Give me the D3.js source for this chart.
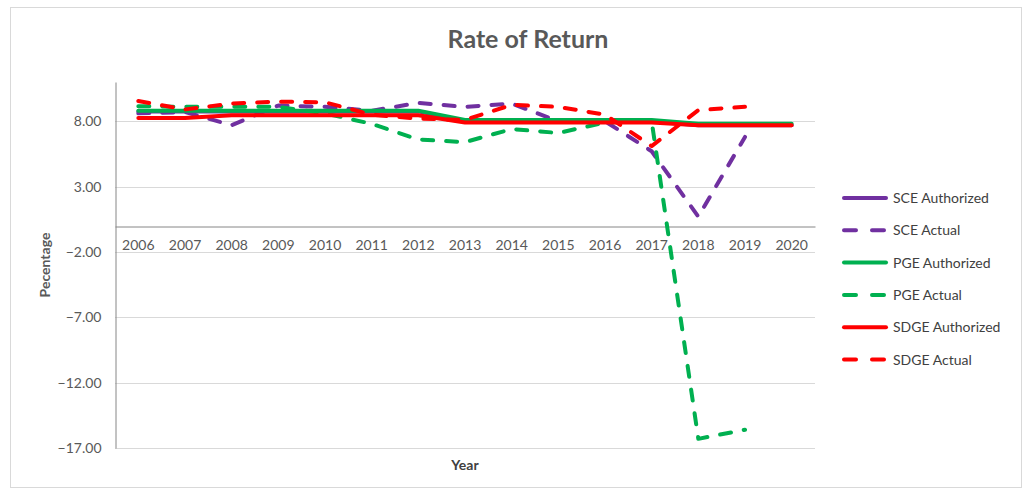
<!DOCTYPE html>
<html>
<head>
<meta charset="utf-8">
<script src="https://cdn.jsdelivr.net/npm/d3@7"></script>
<style>
  body { margin: 0; background: #fff; }
  text { font-family: Lato, "Open Sans", sans-serif; fill: #595959; }
</style>
</head>
<body>
<svg id="chart" width="1026" height="492"></svg>
<script>
// years on the category axis
var years = [2006, 2007, 2008, 2009, 2010, 2011, 2012, 2013, 2014, 2015, 2016, 2017, 2018, 2019, 2020];
var yTicks = [-17, -12, -7, -2, 3, 8];

// rate of return, percent (null = no value)
var sceAuthorized  = [8.75, 8.75, 8.75, 8.75, 8.75, 8.75, 8.75, 8.0, 8.0, 8.0, 8.0, 8.0, 7.7, 7.7, 7.7];
var sceActual      = [8.6, 8.7, 7.7, 9.2, 9.1, 8.8, 9.4, 9.1, 9.35, 8.0, 8.0, 5.7, 0.7, 6.8, null];
var pgeAuthorized  = [8.8, 8.8, 8.8, 8.8, 8.8, 8.8, 8.8, 8.1, 8.1, 8.1, 8.1, 8.1, 7.8, 7.8, 7.8];
var pgeActual      = [9.15, 9.1, 9.1, 9.1, 8.6, 7.8, 6.6, 6.4, 7.4, 7.1, 7.9, 8.0, -16.3, -15.6, null];
var sdgeAuthorized = [8.25, 8.25, 8.45, 8.45, 8.45, 8.45, 8.45, 7.9, 7.9, 7.9, 7.9, 7.9, 7.7, 7.7, 7.7];
var sdgeActual     = [9.55, 8.9, 9.35, 9.5, 9.45, 8.5, 8.2, 8.1, 9.25, 9.1, 8.5, 6.1, 8.85, 9.1, null];

var series = [
  { name: "SCE Authorized",  values: sceAuthorized,  color: "#7030A0", dashed: false },
  { name: "SCE Actual",      values: sceActual,      color: "#7030A0", dashed: true },
  { name: "PGE Authorized",  values: pgeAuthorized,  color: "#00B050", dashed: false },
  { name: "PGE Actual",      values: pgeActual,      color: "#00B050", dashed: true },
  { name: "SDGE Authorized", values: sdgeAuthorized, color: "#FF0000", dashed: false },
  { name: "SDGE Actual",     values: sdgeActual,     color: "#FF0000", dashed: true }
];

var svg = d3.select("#chart");

// chart frame
svg.append("rect")
    .attr("x", 10.5).attr("y", 7.5)
    .attr("width", 1011).attr("height", 480)
    .attr("fill", "none").attr("stroke", "#d9d9d9");

var plotLeft = 115, plotRight = 815, plotTop = 82, plotBottom = 448;

var x = d3.scaleBand().domain(years).range([plotLeft, plotRight]);
var y = d3.scaleLinear().domain([-17, 11]).range([plotBottom, plotTop]);

// gridlines
svg.append("g").selectAll("line")
    .data(yTicks)
  .enter().append("line")
    .attr("x1", plotLeft).attr("x2", plotRight)
    .attr("y1", function(d) { return Math.round(y(d)) + 0.5; })
    .attr("y2", function(d) { return Math.round(y(d)) + 0.5; })
    .attr("stroke", "#d9d9d9");

// value axis
var yAxis = svg.append("g")
    .attr("transform", "translate(" + (plotLeft + 0.5) + ",0)")
    .call(d3.axisLeft(y).tickValues(yTicks).tickSize(0).tickPadding(14)
      .tickFormat(d3.format(".2f")));
yAxis.select(".domain").attr("stroke", "#868686");
yAxis.selectAll("text").attr("font-size", 14).style("fill", "#595959");

// category axis crossing at zero
var xAxis = svg.append("g")
    .attr("transform", "translate(0," + (Math.round(y(0)) + 0.5) + ")")
    .call(d3.axisBottom(x).tickSize(0).tickPadding(14).tickFormat(d3.format("d")));
xAxis.select(".domain").attr("stroke", "#868686");
xAxis.selectAll("text").attr("font-size", 14).style("fill", "#595959");

// lines
var line = d3.line()
    .defined(function(d) { return d != null; })
    .x(function(d, i) { return x(years[i]) + x.bandwidth() / 2; })
    .y(function(d) { return y(d); });

svg.append("g").selectAll("path")
    .data(series)
  .enter().append("path")
    .attr("d", function(s) { return line(s.values); })
    .attr("fill", "none")
    .attr("stroke", function(s) { return s.color; })
    .attr("stroke-width", 4)
    .attr("stroke-linecap", "round")
    .attr("stroke-linejoin", "round")
    .attr("stroke-dasharray", function(s) { return s.dashed ? "11,13" : null; });

// title
svg.append("text")
    .attr("x", 528).attr("y", 48)
    .attr("text-anchor", "middle")
    .attr("font-size", 25).attr("font-weight", "bold")
    .text("Rate of Return");

// axis titles
svg.append("text")
    .attr("x", 465).attr("y", 470)
    .attr("text-anchor", "middle")
    .attr("font-size", 14).attr("font-weight", "bold")
    .style("fill", "#404040")
    .text("Year");

svg.append("text")
    .attr("transform", "translate(50,265) rotate(-90)")
    .attr("text-anchor", "middle")
    .attr("font-size", 14).attr("font-weight", "bold")
    .style("fill", "#595959")
    .text("Pecentage");

// legend
var legend = svg.append("g").selectAll("g")
    .data(series)
  .enter().append("g")
    .attr("transform", function(s, i) { return "translate(842," + (198 + i * 32.3) + ")"; });

legend.append("line")
    .attr("x1", 2).attr("x2", 44)
    .attr("stroke", function(s) { return s.color; })
    .attr("stroke-width", 4)
    .attr("stroke-linecap", "round")
    .attr("stroke-dasharray", function(s) { return s.dashed ? "12,16" : null; });

legend.append("text")
    .attr("x", 51).attr("y", 5)
    .attr("font-size", 14)
    .style("fill", "#404040")
    .text(function(s) { return s.name; });
</script>
</body>
</html>
